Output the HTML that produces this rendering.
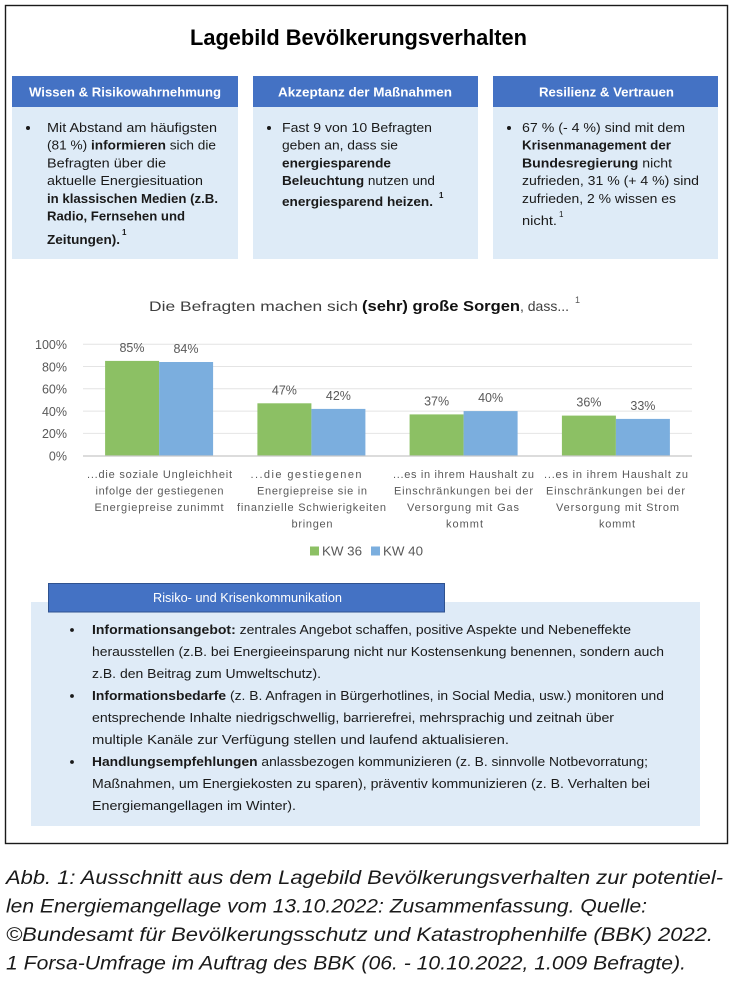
<!DOCTYPE html>
<html>
<head>
<meta charset="utf-8">
<style>
  html,body{margin:0;padding:0;background:#fff;}
  svg{display:block;}
  text{font-family:"Liberation Sans",Arial,sans-serif;}
</style>
</head>
<body>
<svg width="732" height="983" viewBox="0 0 732 983" xmlns="http://www.w3.org/2000/svg">
  <rect x="0" y="0" width="732" height="983" fill="#ffffff"/>
  <!-- outer frame -->
  <rect x="5.5" y="5.5" width="722" height="838" fill="none" stroke="#1a1a1a" stroke-width="1.4"/>

  <!-- Title -->
  <text x="190" y="45" font-size="22" font-weight="bold" fill="#000" textLength="337" lengthAdjust="spacingAndGlyphs">Lagebild Bevölkerungsverhalten</text>

  <!-- Box 1 -->
  <rect x="12" y="107" width="226" height="152" fill="#DEEBF7"/>
  <rect x="12" y="76" width="226" height="31" fill="#4472C4"/>
  <text x="29" y="96.5" font-size="13" font-weight="bold" fill="#fff" textLength="192" lengthAdjust="spacingAndGlyphs">Wissen &amp; Risikowahrnehmung</text>
  <g fill="#1a1a1a" font-size="13">
    <circle cx="28" cy="128" r="2"/>
    <text x="47" y="132" textLength="170" lengthAdjust="spacingAndGlyphs">Mit Abstand am häufigsten</text>
    <text x="47" y="149.7" textLength="169" lengthAdjust="spacingAndGlyphs">(81 %) <tspan font-weight="bold">informieren</tspan> sich die</text>
    <text x="47" y="167.4" textLength="119" lengthAdjust="spacingAndGlyphs">Befragten über die</text>
    <text x="47" y="185.1" textLength="156" lengthAdjust="spacingAndGlyphs">aktuelle Energiesituation</text>
    <text x="47" y="202.8" font-weight="bold" textLength="171" lengthAdjust="spacingAndGlyphs">in klassischen Medien (z.B.</text>
    <text x="47" y="220.5" font-weight="bold" textLength="138" lengthAdjust="spacingAndGlyphs">Radio, Fernsehen und</text>
    <text x="47" y="244" font-weight="bold" textLength="73" lengthAdjust="spacingAndGlyphs">Zeitungen).</text>
    <text x="122" y="235" font-size="8" font-weight="bold">1</text>
  </g>

  <!-- Box 2 -->
  <rect x="253" y="107" width="225" height="152" fill="#DEEBF7"/>
  <rect x="253" y="76" width="225" height="31" fill="#4472C4"/>
  <text x="278" y="96.5" font-size="13" font-weight="bold" fill="#fff" textLength="174" lengthAdjust="spacingAndGlyphs">Akzeptanz der Maßnahmen</text>
  <g fill="#1a1a1a" font-size="13">
    <circle cx="269" cy="128" r="2"/>
    <text x="282" y="132" textLength="150" lengthAdjust="spacingAndGlyphs">Fast 9 von 10 Befragten</text>
    <text x="282" y="149.7" textLength="116" lengthAdjust="spacingAndGlyphs">geben an, dass sie</text>
    <text x="282" y="167.4" font-weight="bold" textLength="109" lengthAdjust="spacingAndGlyphs">energiesparende</text>
    <text x="282" y="185.1" textLength="153" lengthAdjust="spacingAndGlyphs"><tspan font-weight="bold">Beleuchtung</tspan> nutzen und</text>
    <text x="282" y="206" font-weight="bold" textLength="151" lengthAdjust="spacingAndGlyphs">energiesparend heizen.</text>
    <text x="439" y="198" font-size="8" font-weight="bold">1</text>
  </g>

  <!-- Box 3 -->
  <rect x="493" y="107" width="225" height="152" fill="#DEEBF7"/>
  <rect x="493" y="76" width="225" height="31" fill="#4472C4"/>
  <text x="539" y="96.5" font-size="13" font-weight="bold" fill="#fff" textLength="135" lengthAdjust="spacingAndGlyphs">Resilienz &amp; Vertrauen</text>
  <g fill="#1a1a1a" font-size="13">
    <circle cx="509" cy="128" r="2"/>
    <text x="522" y="132" textLength="163" lengthAdjust="spacingAndGlyphs">67 % (- 4 %) sind mit dem</text>
    <text x="522" y="149.7" font-weight="bold" textLength="149" lengthAdjust="spacingAndGlyphs">Krisenmanagement der</text>
    <text x="522" y="167.4" textLength="150" lengthAdjust="spacingAndGlyphs"><tspan font-weight="bold">Bundesregierung</tspan> nicht</text>
    <text x="522" y="185.1" textLength="177" lengthAdjust="spacingAndGlyphs">zufrieden, 31 % (+ 4 %) sind</text>
    <text x="522" y="202.8" textLength="154" lengthAdjust="spacingAndGlyphs">zufrieden, 2 % wissen es</text>
    <text x="522" y="225" textLength="35" lengthAdjust="spacingAndGlyphs">nicht.</text>
    <text x="559" y="217" font-size="8">1</text>
  </g>

  <!-- Chart title -->
  <text x="149" y="311" font-size="14" fill="#404040" textLength="209" lengthAdjust="spacingAndGlyphs">Die Befragten machen sich</text>
  <text x="362" y="311" font-size="15" font-weight="bold" fill="#111" textLength="158" lengthAdjust="spacingAndGlyphs">(sehr) große Sorgen</text>
  <text x="520" y="311" font-size="14" fill="#404040" textLength="49" lengthAdjust="spacingAndGlyphs">, dass...</text>
  <text x="575" y="303" font-size="9" fill="#595959">1</text>

  <!-- gridlines -->
  <g stroke="#E4E4E4" stroke-width="1">
    <line x1="83" y1="344.2" x2="692" y2="344.2"/>
    <line x1="83" y1="366.5" x2="692" y2="366.5"/>
    <line x1="83" y1="388.8" x2="692" y2="388.8"/>
    <line x1="83" y1="411.1" x2="692" y2="411.1"/>
    <line x1="83" y1="433.4" x2="692" y2="433.4"/>
  </g>

  <!-- bars -->
  <g>
    <rect x="105.1" y="360.9" width="54" height="94.8" fill="#8CC064"/>
    <rect x="159.1" y="362.0" width="54" height="93.7" fill="#7BAEDE"/>
    <rect x="257.4" y="403.3" width="54" height="52.4" fill="#8CC064"/>
    <rect x="311.4" y="408.9" width="54" height="46.8" fill="#7BAEDE"/>
    <rect x="409.6" y="414.4" width="54" height="41.3" fill="#8CC064"/>
    <rect x="463.6" y="411.1" width="54" height="44.6" fill="#7BAEDE"/>
    <rect x="561.9" y="415.6" width="54" height="40.1" fill="#8CC064"/>
    <rect x="615.9" y="418.9" width="54" height="36.8" fill="#7BAEDE"/>
  </g>
  <line x1="83" y1="456" x2="692" y2="456" stroke="#C8C8C8" stroke-width="1.3"/>

  <!-- y axis labels -->
  <g font-size="12.5" fill="#595959" text-anchor="end">
    <text x="67" y="349">100%</text>
    <text x="67" y="371.3">80%</text>
    <text x="67" y="393.6">60%</text>
    <text x="67" y="415.9">40%</text>
    <text x="67" y="438.2">20%</text>
    <text x="67" y="460.5">0%</text>
  </g>

  <!-- value labels -->
  <g font-size="12.5" fill="#595959" text-anchor="middle">
    <text x="132" y="352">85%</text>
    <text x="186" y="353">84%</text>
    <text x="284.4" y="394.3">47%</text>
    <text x="338.4" y="399.9">42%</text>
    <text x="436.6" y="405.4">37%</text>
    <text x="490.6" y="402.1">40%</text>
    <text x="588.9" y="406.6">36%</text>
    <text x="642.9" y="409.9">33%</text>
  </g>

  <!-- category labels -->
  <g font-size="11" fill="#595959" text-anchor="middle">
    <text x="159.5" y="478" textLength="145" lengthAdjust="spacing">...die soziale Ungleichheit</text>
    <text x="159.5" y="494.5" textLength="128" lengthAdjust="spacing">infolge der gestiegenen</text>
    <text x="159" y="511" textLength="129" lengthAdjust="spacing">Energiepreise zunimmt</text>

    <text x="306" y="478" textLength="111" lengthAdjust="spacing">...die gestiegenen</text>
    <text x="312" y="494.5" textLength="110" lengthAdjust="spacing">Energiepreise sie in</text>
    <text x="311.5" y="511" textLength="149" lengthAdjust="spacing">finanzielle Schwierigkeiten</text>
    <text x="312" y="527.5" textLength="41" lengthAdjust="spacing">bringen</text>

    <text x="463.5" y="478" textLength="141" lengthAdjust="spacing">...es in ihrem Haushalt zu</text>
    <text x="463.5" y="494.5" textLength="139" lengthAdjust="spacing">Einschränkungen bei der</text>
    <text x="463" y="511" textLength="112" lengthAdjust="spacing">Versorgung mit Gas</text>
    <text x="464.5" y="527.5" textLength="37" lengthAdjust="spacing">kommt</text>

    <text x="616" y="478" textLength="144" lengthAdjust="spacing">...es in ihrem Haushalt zu</text>
    <text x="615.5" y="494.5" textLength="139" lengthAdjust="spacing">Einschränkungen bei der</text>
    <text x="617.5" y="511" textLength="123" lengthAdjust="spacing">Versorgung mit Strom</text>
    <text x="617" y="527.5" textLength="36" lengthAdjust="spacing">kommt</text>
  </g>

  <!-- legend -->
  <rect x="310" y="546.5" width="9" height="9" fill="#8CC064"/>
  <text x="322" y="555.5" font-size="12.5" fill="#595959" textLength="40" lengthAdjust="spacingAndGlyphs">KW 36</text>
  <rect x="371" y="546.5" width="9" height="9" fill="#7BAEDE"/>
  <text x="383" y="555.5" font-size="12.5" fill="#595959" textLength="40" lengthAdjust="spacingAndGlyphs">KW 40</text>

  <!-- bottom section -->
  <rect x="31" y="602" width="669" height="224" fill="#DFEBF7"/>
  <rect x="48.5" y="583.5" width="396" height="28.5" fill="#4472C4" stroke="#2F528F" stroke-width="1"/>
  <text x="153" y="602" font-size="12.5" fill="#fff" textLength="189" lengthAdjust="spacingAndGlyphs">Risiko- und Krisenkommunikation</text>

  <g fill="#1a1a1a" font-size="12.5">
    <circle cx="72" cy="630" r="1.9"/>
    <text x="92" y="634" textLength="539" lengthAdjust="spacingAndGlyphs"><tspan font-weight="bold">Informationsangebot:</tspan> zentrales Angebot schaffen, positive Aspekte und Nebeneffekte</text>
    <text x="92" y="656" textLength="572" lengthAdjust="spacingAndGlyphs">herausstellen (z.B. bei Energieeinsparung nicht nur Kostensenkung benennen, sondern auch</text>
    <text x="92" y="678" textLength="229" lengthAdjust="spacingAndGlyphs">z.B. den Beitrag zum Umweltschutz).</text>
    <circle cx="72" cy="696" r="1.9"/>
    <text x="92" y="700" textLength="572" lengthAdjust="spacingAndGlyphs"><tspan font-weight="bold">Informationsbedarfe</tspan> (z. B. Anfragen in Bürgerhotlines, in Social Media, usw.) monitoren und</text>
    <text x="92" y="722" textLength="522" lengthAdjust="spacingAndGlyphs">entsprechende Inhalte niedrigschwellig, barrierefrei, mehrsprachig und zeitnah über</text>
    <text x="92" y="744" textLength="417" lengthAdjust="spacingAndGlyphs">multiple Kanäle zur Verfügung stellen und laufend aktualisieren.</text>
    <circle cx="72" cy="762" r="1.9"/>
    <text x="92" y="766" textLength="556" lengthAdjust="spacingAndGlyphs"><tspan font-weight="bold">Handlungsempfehlungen</tspan> anlassbezogen kommunizieren (z. B. sinnvolle Notbevorratung;</text>
    <text x="92" y="788" textLength="558" lengthAdjust="spacingAndGlyphs">Maßnahmen, um Energiekosten zu sparen), präventiv kommunizieren (z. B. Verhalten bei</text>
    <text x="92" y="810" textLength="204" lengthAdjust="spacingAndGlyphs">Energiemangellagen im Winter).</text>
  </g>

  <!-- caption -->
  <g fill="#1a1a1a" font-size="19" font-style="italic">
    <text x="6" y="884" textLength="717" lengthAdjust="spacingAndGlyphs">Abb. 1: Ausschnitt aus dem Lagebild Bevölkerungsverhalten zur potentiel-</text>
    <text x="6" y="912.5" textLength="641" lengthAdjust="spacingAndGlyphs">len Energiemangellage vom 13.10.2022: Zusammenfassung. Quelle:</text>
    <text x="6" y="941" textLength="707" lengthAdjust="spacingAndGlyphs">©Bundesamt für Bevölkerungsschutz und Katastrophenhilfe (BBK) 2022.</text>
    <text x="6" y="969.5" textLength="680" lengthAdjust="spacingAndGlyphs">1 Forsa-Umfrage im Auftrag des BBK (06. - 10.10.2022, 1.009 Befragte).</text>
  </g>
</svg>
</body>
</html>
